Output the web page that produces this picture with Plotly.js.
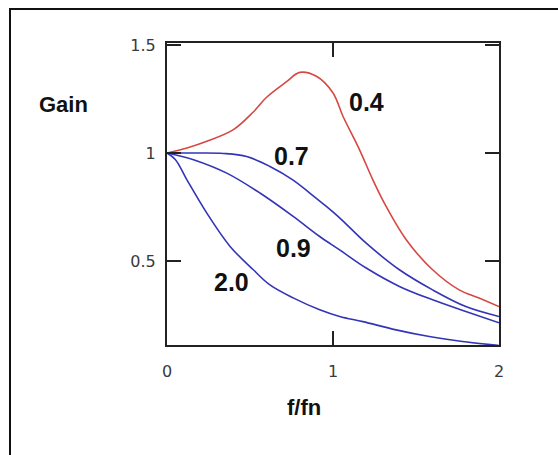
<!DOCTYPE html>
<html>
<head>
<meta charset="utf-8">
<script src="https://cdn.plot.ly/plotly-3.0.1.min.js"></script>
<style>
  html, body { margin: 0; padding: 0; width: 558px; height: 455px; overflow: hidden; background: #fff; }
  #frame { position: absolute; left: 9px; top: 8px; width: 700px; height: 600px; border: 2px solid #111; box-sizing: border-box; }
  #chart { position: absolute; left: 0; top: 0; width: 558px; height: 455px; }
</style>
</head>
<body>
<div id="frame"></div>
<div id="chart"></div>
<script>
// Damping ratio 0.4 (red)
const x04 = [0, 0.12, 0.24, 0.40, 0.52, 0.60, 0.72, 0.80, 0.90, 1.00, 1.06, 1.16, 1.24, 1.32, 1.44, 1.60, 1.76, 1.88, 2.00];
const y04 = [1.0, 1.023, 1.054, 1.108, 1.19, 1.258, 1.33, 1.373, 1.355, 1.278, 1.17, 1.015, 0.876, 0.753, 0.60, 0.46, 0.367, 0.329, 0.29];
// Damping ratio 0.7
const x07 = [0, 0.10, 0.20, 0.34, 0.48, 0.62, 0.76, 0.86, 0.96, 1.04, 1.20, 1.40, 1.60, 1.80, 2.00];
const y07 = [1.0, 1.0, 1.0, 0.998, 0.984, 0.938, 0.875, 0.815, 0.753, 0.70, 0.583, 0.46, 0.367, 0.29, 0.244];
// Damping ratio 0.9
const x09 = [0, 0.06, 0.16, 0.36, 0.56, 0.76, 0.92, 1.04, 1.20, 1.40, 1.60, 1.80, 2.00];
const y09 = [1.0, 0.99, 0.969, 0.907, 0.815, 0.707, 0.614, 0.552, 0.468, 0.383, 0.321, 0.267, 0.215];
// Damping ratio 2.0
const x20 = [0, 0.05, 0.12, 0.24, 0.38, 0.52, 0.62, 0.76, 0.92, 1.04, 1.18, 1.38, 1.58, 1.78, 1.96, 2.00];
const y20 = [1.0, 0.97, 0.876, 0.722, 0.568, 0.46, 0.39, 0.33, 0.275, 0.244, 0.22, 0.182, 0.151, 0.128, 0.113, 0.11];

const curveLabels = ["0.4", "0.7", "0.9", "2.0"];
const labelX = [1.20, 0.75, 0.76, 0.39];
const labelY = [1.237, 0.988, 0.562, 0.404];

const xTicks = [0, 1, 2];
const xTickText = ["0", "1", "2"];
const yTicks = [0.5, 1, 1.5];
const yTickText = ["0.5", "1", "1.5"];

const red = "rgb(214,72,66)";
const blue = "rgb(52,52,184)";

const traces = [
  {x: x04, y: y04, mode: "lines", line: {color: red, width: 1.6, shape: "spline", smoothing: 1}},
  {x: x07, y: y07, mode: "lines", line: {color: blue, width: 1.6, shape: "spline", smoothing: 1}},
  {x: x09, y: y09, mode: "lines", line: {color: blue, width: 1.6, shape: "spline", smoothing: 1}},
  {x: x20, y: y20, mode: "lines", line: {color: blue, width: 1.6, shape: "spline", smoothing: 1}}
];

const labelFont = {family: "'Liberation Sans', Arial, sans-serif", size: 25, color: "#111"};

const annotations = curveLabels.map((t, i) => ({
  x: labelX[i], y: labelY[i], xref: "x", yref: "y", text: "<b>" + t + "</b>",
  showarrow: false, font: labelFont, xanchor: "center", yanchor: "middle"
}));
annotations.push({x: 64, y: 104, xref: "paper", yref: "paper", text: "<b>Gain</b>", showarrow: false,
  font: {family: "'Liberation Sans', Arial, sans-serif", size: 22, color: "#111"}, xanchor: "center", yanchor: "middle"});
annotations.push({x: 304, y: 407, xref: "paper", yref: "paper", text: "<b>f/fn</b>", showarrow: false,
  font: {family: "'Liberation Sans', Arial, sans-serif", size: 22, color: "#111"}, xanchor: "center", yanchor: "middle"});

// convert pixel positions of axis titles to paper coords
const L = 167, R = 59, T = 43, B = 110, W = 558, H = 455;
const pw = W - L - R, ph = H - T - B;
annotations.slice(4).forEach(a => {
  a.x = (a.x - L) / pw;
  a.y = 1 - (a.y - T) / ph;
});

const tickFont = {family: "'DejaVu Sans', Verdana, sans-serif", size: 16, color: "#3a3a3a"};

const layout = {
  width: W, height: H,
  margin: {l: L, r: R, t: T, b: B, pad: 0},
  paper_bgcolor: "rgba(0,0,0,0)",
  plot_bgcolor: "#fff",
  showlegend: false,
  xaxis: {
    range: [0, 2], tickvals: xTicks, ticktext: xTickText, ticks: "inside", ticklen: 14, tickwidth: 2,
    tickcolor: "#222", showline: true, linecolor: "#222", linewidth: 2, mirror: "ticks",
    showgrid: false, zeroline: false, tickfont: tickFont, ticklabelstandoff: 11
  },
  yaxis: {
    range: [0.112, 1.509], tickvals: yTicks, ticktext: yTickText, ticks: "inside", ticklen: 14, tickwidth: 2,
    tickcolor: "#222", showline: true, linecolor: "#222", linewidth: 2, mirror: "ticks",
    showgrid: false, zeroline: false, tickfont: tickFont, ticklabelstandoff: 6
  },
  annotations: annotations
};

Plotly.newPlot("chart", traces, layout, {staticPlot: true, displayModeBar: false});
</script>
</body>
</html>
